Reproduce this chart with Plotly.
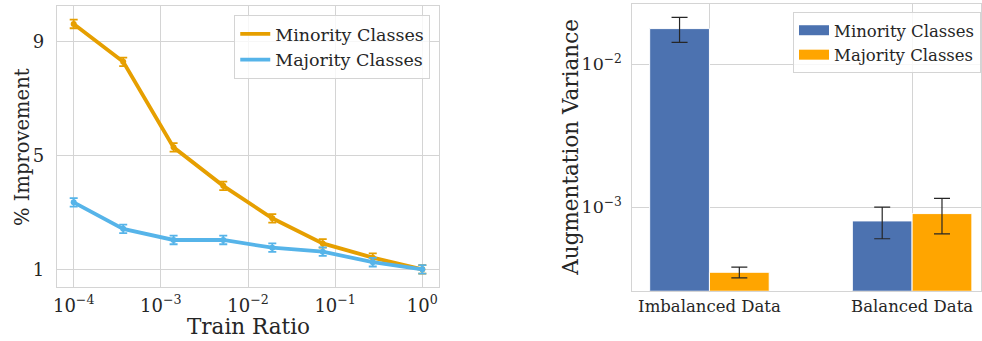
import plotly.graph_objects as go

# ---- Left panel data ----
train_ratio = [1e-4, 3.7e-4, 1.4e-3, 5.2e-3, 1.9e-2, 7.2e-2, 2.7e-1, 1.0]
minority_impr = [9.61, 8.28, 5.28, 3.93, 2.79, 1.91, 1.41, 1.0]
minority_err = [0.15, 0.15, 0.15, 0.15, 0.15, 0.15, 0.15, 0.15]
majority_impr = [3.35, 2.42, 2.03, 2.03, 1.76, 1.62, 1.25, 1.0]
majority_err = [0.15, 0.15, 0.15, 0.15, 0.15, 0.15, 0.15, 0.15]
x_tickvals = [1e-4, 1e-3, 1e-2, 1e-1, 1e0]
x_ticktext = ["10<sup>−4</sup>", "10<sup>−3</sup>", "10<sup>−2</sup>", "10<sup>−1</sup>", "10<sup>0</sup>"]
y_tickvals = [1, 5, 9]

# ---- Right panel data ----
data_types = ["Imbalanced Data", "Balanced Data"]
minority_var = [0.0177, 0.00080]
minority_var_err = [0.0035, 0.00020]
majority_var = [0.00035, 0.00090]
majority_var_err = [0.00003, 0.00025]
var_tickvals = [1e-3, 1e-2]
var_ticktext = ["10<sup>−3</sup>", "10<sup>−2</sup>"]

FONT = "DejaVu Serif"
TXT = "#262626"
GRID = "#d4d4d4"
ORANGE = "#E69F00"
SKY = "#56B4E9"
BLUE = "#4C72B0"
BAR_ORANGE = "#FFA500"

fig = go.Figure()

for name, ys, errs, col in [("Minority Classes", minority_impr, minority_err, ORANGE),
                            ("Majority Classes", majority_impr, majority_err, SKY)]:
    fig.add_trace(go.Scatter(
        x=train_ratio, y=ys, mode="lines+markers", name=name, showlegend=False,
        line=dict(color=col, width=3.8), marker=dict(color=col, size=6),
        error_y=dict(type="data", array=errs, color=col, thickness=1.8, width=4),
        xaxis="x", yaxis="y"))
for name, col in [("Minority Classes", ORANGE), ("Majority Classes", SKY)]:
    fig.add_trace(go.Scatter(
        x=[None], y=[None], mode="lines", name=name,
        line=dict(color=col, width=3.8), xaxis="x", yaxis="y", legend="legend"))

fig.add_trace(go.Bar(
    x=data_types, y=minority_var, name="Minority Classes", showlegend=False,
    marker=dict(color=BLUE, line=dict(color="white", width=1)),
    error_y=dict(type="data", array=minority_var_err, color=TXT, thickness=1.2, width=8),
    xaxis="x2", yaxis="y2"))
fig.add_trace(go.Bar(
    x=data_types, y=majority_var, name="Majority Classes", showlegend=False,
    marker=dict(color=BAR_ORANGE, line=dict(color="white", width=1)),
    error_y=dict(type="data", array=majority_var_err, color=TXT, thickness=1.2, width=8),
    xaxis="x2", yaxis="y2"))
for name, col in [("Minority Classes", BLUE), ("Majority Classes", BAR_ORANGE)]:
    fig.add_trace(go.Scatter(
        x=[None], y=[None], mode="lines", name=name,
        line=dict(color=col, width=10), xaxis="x2", yaxis="y2", legend="legend2"))

W, H = 982, 341


def ax(size, standoff=0):
    return dict(showgrid=True, gridcolor=GRID, gridwidth=1, showline=True,
                linecolor=GRID, linewidth=1, mirror=True, ticks="", zeroline=False,
                ticklabelstandoff=standoff,
                tickfont=dict(family=FONT, size=size, color=TXT))


fig.update_layout(
    width=W, height=H, margin=dict(l=0, r=0, t=0, b=0),
    paper_bgcolor="white", plot_bgcolor="white",
    font=dict(family=FONT, color=TXT),
    barmode="group", bargap=0.41, bargroupgap=0,
    xaxis=dict(domain=[53 / W, 437 / W], type="log", range=[-4.194, 0.194],
               tickvals=x_tickvals, ticktext=x_ticktext, anchor="y", **ax(18, 2)),
    yaxis=dict(domain=[1 - 287 / H, 1 - 6 / H], range=[0.38, 10.24],
               tickvals=y_tickvals, anchor="x", **ax(18, 8)),
    xaxis2=dict(domain=[631 / W, 981 / W], range=[-0.38, 1.34], type="category",
                anchor="y2", **ax(16.5, 0)),
    yaxis2=dict(domain=[1 - 290.7 / H, 1 - 4 / H], type="log", range=[-3.585, -1.58],
                tickvals=var_tickvals, ticktext=var_ticktext, anchor="x2", **ax(17.5, 6)),
    legend=dict(x=428 / W, y=1 - 15 / H, xanchor="right", yanchor="top",
                bgcolor="rgba(255,255,255,0.8)", bordercolor=GRID, borderwidth=1,
                tracegroupgap=0,
                font=dict(family=FONT, size=17.5, color=TXT)),
    legend2=dict(x=981 / W, y=1 - 12 / H, xanchor="right", yanchor="top",
                 bgcolor="rgba(255,255,255,0.8)", bordercolor=GRID, borderwidth=1,
                 font=dict(family=FONT, size=16.5, color=TXT)),
    annotations=[
        dict(text="Train Ratio", x=245 / W, y=1 - 326 / H, xref="paper", yref="paper",
             xanchor="center", yanchor="middle",
             showarrow=False, font=dict(family=FONT, size=21.5, color=TXT)),
        dict(text="% Improvement", x=18 / W, y=1 - 147 / H, xref="paper", yref="paper",
             xanchor="center", yanchor="middle",
             showarrow=False, textangle=-90, font=dict(family=FONT, size=19.5, color=TXT)),
        dict(text="Augmentation Variance", x=568 / W, y=1 - 147 / H, xref="paper", yref="paper",
             xanchor="center", yanchor="middle",
             showarrow=False, textangle=-90, font=dict(family=FONT, size=21.5, color=TXT)),
    ],
)

fig.write_html("out.html", config={"displayModeBar": False},
               post_script="document.body.style.margin='0';document.body.style.overflow='hidden';")
